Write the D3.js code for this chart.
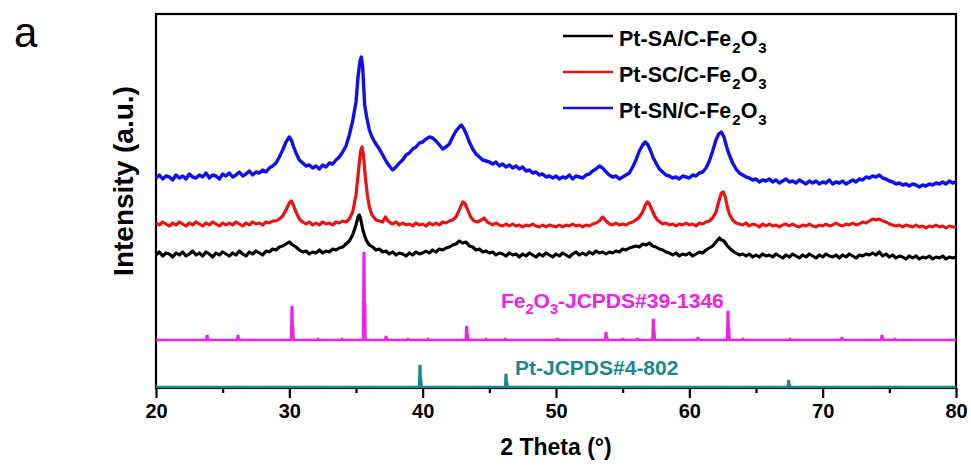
<!DOCTYPE html>
<html><head><meta charset="utf-8">
<script src="https://cdn.jsdelivr.net/npm/d3@7"></script>
<style>
html,body{margin:0;padding:0;background:#fff;}
svg{display:block;font-family:"Liberation Sans",Arial,sans-serif;}
</style></head>
<body>
<svg id="chart" width="971" height="469"></svg>
<script>
// ---------- DATA (2θ, intensity a.u.; traces already vertically offset) ----------
const seriesNames = ["Pt-SA/C-Fe", "Pt-SC/C-Fe", "Pt-SN/C-Fe"];
const seriesColors = ["#000000", "#ee1111", "#1010ee"];

const ptSA = [[20,132],[20.25,135],[20.5,131],[20.75,134],[21,133],[21.25,130],[21.5,134],[21.75,132],[22,135],[22.25,131],[22.5,133],[22.75,136],[23,132],[23.25,134],[23.5,131],[23.75,135],[24,133],[24.25,130],[24.5,134],[24.75,132],[25,135],[25.25,133],[25.5,131],[25.75,134],[26,132],[26.25,136],[26.5,133],[26.75,131],[27,135],[27.25,133],[27.5,136],[27.75,134],[28,132],[28.25,136],[28.5,135],[28.75,138],[29,137],[29.25,140],[29.5,141],[29.75,143],[30,145],[30.25,142],[30.5,140],[30.75,137],[31,135],[31.25,136],[31.5,133],[31.75,135],[32,134],[32.25,137],[32.5,134],[32.75,136],[33,135],[33.25,138],[33.5,137],[33.75,139],[34,140],[34.25,143],[34.5,146],[34.75,152],[35,162],[35.15,170],[35.25,172],[35.35,168],[35.5,158],[35.65,151],[35.8,146],[36,142],[36.25,140],[36.5,137],[36.75,138],[37,135],[37.25,136],[37.5,133],[37.75,135],[38,132],[38.25,134],[38.5,133],[38.75,131],[39,134],[39.25,132],[39.5,135],[39.75,133],[40,134],[40.25,136],[40.5,134],[40.75,137],[41,135],[41.25,138],[41.5,137],[41.75,139],[42,140],[42.25,142],[42.5,143],[42.75,146],[43,144],[43.25,145],[43.5,141],[43.75,140],[44,137],[44.25,138],[44.5,135],[44.75,136],[45,134],[45.25,135],[45.5,132],[45.75,134],[46,133],[46.25,131],[46.5,134],[46.75,132],[47,133],[47.25,130],[47.5,133],[47.75,131],[48,134],[48.25,132],[48.5,130],[48.75,133],[49,131],[49.25,134],[49.5,132],[49.75,130],[50,133],[50.25,131],[50.5,134],[50.75,132],[51,130],[51.25,133],[51.5,135],[51.75,132],[52,134],[52.25,132],[52.5,135],[52.75,133],[53,136],[53.25,134],[53.5,135],[53.75,133],[54,135],[54.25,134],[54.5,136],[54.75,135],[55,138],[55.25,137],[55.5,139],[55.75,140],[56,141],[56.25,140],[56.5,143],[56.75,142],[57,144],[57.25,141],[57.5,140],[57.75,138],[58,137],[58.25,135],[58.5,134],[58.75,132],[59,134],[59.25,131],[59.5,133],[59.75,132],[60,134],[60.25,131],[60.5,133],[60.75,135],[61,134],[61.25,137],[61.5,139],[61.75,141],[62,145],[62.25,149],[62.4,147],[62.6,146],[62.8,142],[63,139],[63.25,136],[63.5,134],[63.75,132],[64,133],[64.25,131],[64.5,133],[64.75,130],[65,132],[65.25,130],[65.5,133],[65.75,131],[66,132],[66.25,130],[66.5,133],[66.75,131],[67,129],[67.25,132],[67.5,130],[67.75,133],[68,131],[68.25,129],[68.5,132],[68.75,130],[69,133],[69.25,131],[69.5,129],[69.75,132],[70,130],[70.25,133],[70.5,131],[70.75,130],[71,132],[71.25,129],[71.5,132],[71.75,130],[72,133],[72.25,131],[72.5,129],[72.75,132],[73,131],[73.25,133],[73.5,132],[73.75,134],[74,132],[74.25,135],[74.5,131],[74.75,133],[75,130],[75.25,132],[75.5,129],[75.75,131],[76,130],[76.25,128],[76.5,131],[76.75,129],[77,131],[77.25,128],[77.5,130],[77.75,129],[78,131],[78.25,128],[78.5,130],[78.75,129],[79,131],[79.25,128],[79.5,130],[79.75,129],[80,130]];

const ptSC = [[20,164],[20.25,162],[20.5,165],[20.75,163],[21,161],[21.25,164],[21.5,162],[21.75,165],[22,163],[22.25,161],[22.5,164],[22.75,162],[23,165],[23.25,163],[23.5,161],[23.75,164],[24,162],[24.25,165],[24.5,163],[24.75,161],[25,164],[25.25,162],[25.5,164],[25.75,162],[26,165],[26.25,163],[26.5,161],[26.75,164],[27,162],[27.25,165],[27.5,163],[27.75,164],[28,162],[28.25,165],[28.5,164],[28.75,166],[29,166],[29.25,168],[29.5,171],[29.75,177],[30,184],[30.15,186],[30.3,182],[30.5,175],[30.75,168],[31,165],[31.25,163],[31.5,165],[31.75,162],[32,164],[32.25,162],[32.5,165],[32.75,163],[33,164],[33.25,162],[33.5,165],[33.75,164],[34,166],[34.25,165],[34.5,168],[34.75,175],[35,192],[35.2,218],[35.35,236],[35.45,240],[35.55,233],[35.7,210],[35.85,192],[36,180],[36.2,172],[36.5,167],[36.75,166],[37,165],[37.2,170],[37.4,166],[37.6,164],[37.75,163],[38,165],[38.25,162],[38.5,164],[38.75,162],[39,163],[39.25,161],[39.5,164],[39.75,162],[40,163],[40.25,161],[40.5,164],[40.75,162],[41,164],[41.25,162],[41.5,165],[41.75,164],[42,166],[42.25,167],[42.5,170],[42.75,177],[43,185],[43.15,184],[43.35,178],[43.6,170],[43.85,166],[44.1,165],[44.4,167],[44.6,169],[44.85,165],[45,164],[45.25,162],[45.5,164],[45.75,162],[46,161],[46.25,163],[46.5,161],[46.75,163],[47,161],[47.25,162],[47.5,160],[47.75,162],[48,161],[48.25,163],[48.5,161],[48.75,160],[49,162],[49.25,160],[49.5,162],[49.75,161],[50,160],[50.25,162],[50.5,160],[50.75,162],[51,161],[51.25,163],[51.5,161],[51.75,162],[52,160],[52.25,162],[52.5,161],[52.75,163],[53,164],[53.25,166],[53.5,170],[53.75,166],[54,163],[54.25,162],[54.5,164],[54.75,162],[55,163],[55.25,162],[55.5,164],[55.75,165],[56,167],[56.25,170],[56.5,175],[56.7,182],[56.85,185],[57,183],[57.2,177],[57.4,171],[57.6,167],[57.8,165],[58,163],[58.25,164],[58.5,162],[58.75,163],[59,161],[59.25,163],[59.5,162],[59.75,164],[60,162],[60.25,163],[60.5,161],[60.75,164],[61,163],[61.25,165],[61.5,166],[61.75,169],[62,175],[62.2,185],[62.4,194],[62.55,195],[62.7,190],[62.85,180],[63,173],[63.25,167],[63.5,164],[63.75,163],[64,162],[64.25,164],[64.5,161],[64.75,163],[65,162],[65.25,160],[65.5,163],[65.75,161],[66,163],[66.25,161],[66.5,162],[66.75,160],[67,162],[67.25,163],[67.5,161],[67.75,163],[68,161],[68.25,160],[68.5,162],[68.75,161],[69,163],[69.25,161],[69.5,160],[69.75,162],[70,161],[70.25,163],[70.5,161],[70.75,162],[71,164],[71.25,162],[71.5,161],[71.75,163],[72,162],[72.25,164],[72.5,162],[72.75,163],[73,165],[73.25,164],[73.5,166],[73.75,168],[74,167],[74.25,168],[74.5,166],[74.75,165],[75,163],[75.25,162],[75.5,161],[75.75,162],[76,160],[76.25,162],[76.5,161],[76.75,160],[77,162],[77.25,160],[77.5,161],[77.75,159],[78,161],[78.25,160],[78.5,162],[78.75,160],[79,161],[79.25,159],[79.5,161],[79.75,160],[80,160]];

const ptSN = [[20,209],[20.25,212],[20.5,208],[20.75,211],[21,210],[21.25,207],[21.5,212],[21.75,209],[22,211],[22.25,208],[22.5,213],[22.75,210],[23,209],[23.25,212],[23.5,210],[23.75,214],[24,209],[24.25,212],[24.5,211],[24.75,208],[25,213],[25.25,211],[25.5,214],[25.75,210],[26,212],[26.25,215],[26.5,211],[26.75,213],[27,216],[27.25,212],[27.5,215],[27.75,214],[28,217],[28.25,215],[28.5,219],[28.75,221],[29,224],[29.25,230],[29.5,237],[29.75,245],[30,250],[30.15,247],[30.3,241],[30.5,234],[30.75,227],[31,224],[31.25,221],[31.5,222],[31.75,219],[32,221],[32.25,218],[32.5,222],[32.75,220],[33,224],[33.25,223],[33.5,227],[33.75,230],[34,235],[34.25,241],[34.5,252],[34.75,266],[35,285],[35.15,310],[35.3,326],[35.4,330],[35.5,320],[35.65,282],[35.8,270],[36,257],[36.2,250],[36.4,245],[36.6,241],[36.8,237],[37,232],[37.25,226],[37.5,221],[37.75,217],[38,220],[38.25,224],[38.5,227],[38.75,232],[39,234],[39.25,238],[39.5,240],[39.75,244],[40,245],[40.25,248],[40.5,250],[40.75,249],[41,246],[41.25,242],[41.5,238],[41.75,240],[42,243],[42.25,250],[42.5,256],[42.75,260],[42.9,262],[43.1,258],[43.3,252],[43.5,245],[43.75,238],[44,233],[44.25,230],[44.5,227],[44.75,226],[45,225],[45.25,223],[45.5,225],[45.75,221],[46,223],[46.25,220],[46.5,222],[46.75,219],[47,221],[47.25,218],[47.5,220],[47.75,216],[48,217],[48.25,214],[48.5,215],[48.75,212],[49,213],[49.25,210],[49.5,211],[49.75,209],[50,211],[50.25,208],[50.5,210],[50.75,209],[51,212],[51.25,208],[51.5,211],[51.75,210],[52,209],[52.25,212],[52.5,213],[52.75,216],[53,218],[53.25,221],[53.5,219],[53.75,215],[54,212],[54.25,210],[54.5,211],[54.75,208],[55,210],[55.25,212],[55.5,214],[55.75,220],[56,227],[56.25,236],[56.5,242],[56.7,245],[56.9,242],[57.1,236],[57.3,229],[57.5,224],[57.75,218],[58,215],[58.25,212],[58.5,211],[58.75,209],[59,210],[59.25,208],[59.5,211],[59.75,210],[60,209],[60.25,212],[60.5,211],[60.75,214],[61,215],[61.25,219],[61.5,226],[61.75,236],[62,247],[62.2,253],[62.4,255],[62.6,250],[62.8,240],[63,232],[63.25,224],[63.5,218],[63.75,214],[64,212],[64.25,210],[64.5,209],[64.75,207],[65,208],[65.25,205],[65.5,207],[65.75,206],[66,208],[66.25,205],[66.5,207],[66.75,204],[67,206],[67.25,208],[67.5,205],[67.75,206],[68,204],[68.25,207],[68.5,205],[68.75,203],[69,206],[69.25,204],[69.5,206],[69.75,203],[70,205],[70.25,204],[70.5,207],[70.75,203],[71,205],[71.25,204],[71.5,206],[71.75,203],[72,205],[72.25,207],[72.5,205],[72.75,208],[73,207],[73.25,210],[73.5,209],[73.75,211],[74,210],[74.25,212],[74.5,209],[74.75,208],[75,206],[75.25,205],[75.5,203],[75.75,204],[76,202],[76.25,203],[76.5,201],[76.75,203],[77,202],[77.25,200],[77.5,202],[77.75,201],[78,203],[78.25,202],[78.5,204],[78.75,203],[79,205],[79.25,203],[79.5,206],[79.75,204],[80,205]];

// Reference patterns: [2θ, peak height above baseline]
const fe2o3Base = 47;
const fe2o3Peaks = [[23.83,4],[26.15,4],[30.2,33],[32.15,1],[33.95,1],[35.6,87],[37.25,3],[38.9,1],[40.4,1],[43.3,13],[44.75,1],[46.2,1],[50.1,1],[53.75,7],[55.0,1],[56.1,1],[57.3,20],[60.65,2],[62.9,28],[64.0,1],[67.55,1],[71.45,2],[74.45,4],[75.4,1]];
const ptBase = 0;
const ptPeaks = [[39.8,21],[46.25,12],[67.45,6]];

const xTicks = [20,30,40,50,60,70,80];
const xMinorTicks = [25,35,45,55,65,75];

// ---------- CHART ----------
const svg = d3.select("#chart");
const x = d3.scaleLinear().domain([20,80]).range([156,956]);
const y = d3.scaleLinear().domain([-1,373]).range([388,14]);

const line = d3.line().x(d=>x(d[0])).y(d=>y(d[1]));

function stickPath(peaks, base){
  const pts = [[20, base]];
  peaks.forEach(([p,h])=>{
    pts.push([p-0.07, base],[p-0.03, base+h],[p+0.03, base+h],[p+0.05, base+h*0.45],[p+0.09, base+h*0.4],[p+0.12, base]);
  });
  pts.push([80, base]);
  return pts;
}

// frame
svg.append("rect").attr("x",x(20)).attr("y",y(373)).attr("width",x(80)-x(20)).attr("height",y(-1)-y(373))
  .attr("fill","none").attr("stroke","#000").attr("stroke-width",2.2);

// traces
const traces = [ptSA, ptSC, ptSN];
const traceWidths = [3.2, 3.2, 3.4];
traces.forEach((d,i)=>{
  svg.append("path").datum(d).attr("d",line).attr("fill","none")
    .attr("stroke",seriesColors[i]).attr("stroke-width",traceWidths[i]).attr("stroke-linejoin","round");
});
svg.append("path").datum(stickPath(fe2o3Peaks, fe2o3Base)).attr("d",line).attr("fill","none")
  .attr("stroke","#f020e8").attr("stroke-width",2.4);
svg.append("path").datum(stickPath(ptPeaks, ptBase)).attr("d",line).attr("fill","none")
  .attr("stroke","#198a8a").attr("stroke-width",2.4);

// x axis
const gx = svg.append("g").attr("transform",`translate(0,${y(-1)})`);
gx.call(d3.axisBottom(x).tickValues(xTicks).tickSize(10).tickPadding(6).tickFormat(d3.format("d")));
gx.select(".domain").remove();
gx.selectAll(".tick line").attr("stroke","#000").attr("stroke-width",2.2);
gx.selectAll(".tick text").attr("font-size",20).attr("font-weight","bold").attr("fill","#000")
  .attr("font-family",'"Liberation Sans",Arial,sans-serif');
const gxm = svg.append("g").attr("transform",`translate(0,${y(-1)})`);
gxm.call(d3.axisBottom(x).tickValues(xMinorTicks).tickSize(5).tickFormat(""));
gxm.select(".domain").remove();
gxm.selectAll(".tick line").attr("stroke","#000").attr("stroke-width",2.2);

// titles
svg.append("text").attr("x",(x(20)+x(80))/2).attr("y",455).attr("text-anchor","middle")
  .attr("font-size",23).attr("font-weight","bold").text("2 Theta (°)");
svg.append("text").attr("transform","translate(133,181) rotate(-90)").attr("text-anchor","middle")
  .attr("font-size",28).attr("font-weight","bold").text("Intensity (a.u.)");
svg.append("text").attr("x",14).attr("y",47).attr("font-size",42).text("a");

// legend
const legY = [46, 82, 118];
seriesNames.forEach((n,i)=>{
  svg.append("line").attr("x1",563).attr("x2",613).attr("y1",legY[i]-10).attr("y2",legY[i]-10)
    .attr("stroke",seriesColors[i]).attr("stroke-width",2.6);
  const t = svg.append("text").attr("x",619).attr("y",legY[i]).attr("font-size",21.5).attr("font-weight","bold").attr("fill","#000");
  t.append("tspan").text(n);
  t.append("tspan").attr("font-size",15).attr("dy",7).attr("dx",1).text("2");
  t.append("tspan").attr("dy",-7).text("O");
  t.append("tspan").attr("font-size",15).attr("dy",7).attr("dx",1).text("3");
});

// reference labels
const lf = svg.append("text").attr("x",501).attr("y",308).attr("font-size",21).attr("font-weight","bold").attr("fill","#f020e8");
lf.append("tspan").text("Fe");
lf.append("tspan").attr("font-size",14.5).attr("dy",6).text("2");
lf.append("tspan").attr("dy",-6).text("O");
lf.append("tspan").attr("font-size",14.5).attr("dy",6).text("3");
lf.append("tspan").attr("dy",-6).text("-JCPDS#39-1346");
svg.append("text").attr("x",515).attr("y",375).attr("font-size",21).attr("font-weight","bold").attr("fill","#198a8a")
  .text("Pt-JCPDS#4-802");
</script>
</body></html>
